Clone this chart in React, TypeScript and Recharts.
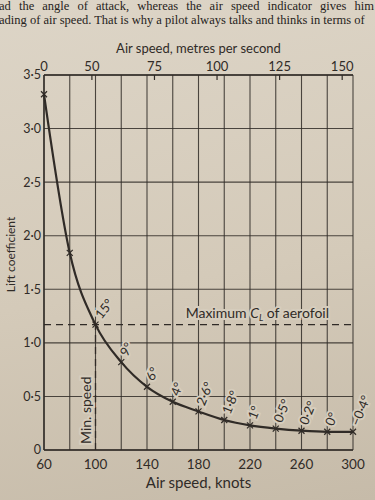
import React from "react";
import {
  LineChart,
  Line,
  XAxis,
  YAxis,
  CartesianGrid,
  ReferenceLine,
  LabelList,
  Label,
} from "recharts";

// air speed in knots, lift coefficient and angle of attack at each point
const KNOTS = [60, 80, 100, 120, 140, 160, 180, 200, 220, 240, 260, 280, 300];
const LIFT = [3.32, 1.84, 1.17, 0.82, 0.59, 0.45, 0.36, 0.28, 0.23, 0.2, 0.18, 0.17, 0.17];
const ANGLES = ["", "", "15°", "9°", "6°", "4°", "2·6°", "1·8°", "1°", "0·5°", "0·2°", "0°", "−0·4°"];

const KNOT_TICKS = [60, 80, 100, 120, 140, 160, 180, 200, 220, 240, 260, 280, 300];
const KNOT_LABELS = [60, 100, 140, 180, 220, 260, 300];
const LIFT_TICKS = [0, 0.5, 1, 1.5, 2, 2.5, 3, 3.5];
// top scale in metres per second, placed at the matching speed in knots (left edge marked "0")
const MS_AT_KNOTS = [60, 97.2, 145.8, 194.4, 243, 291.6];
const MS_LABELS = ["0", "50", "75", "100", "125", "150"];

const MAX_CL = 1.17;
const MIN_SPEED = 100;

const PAPER = "#d6cdbd";
const INK = "#302b27";
const FONT = "Lato, 'Open Sans', sans-serif";

const data = KNOTS.map((k, i) => ({ knots: k, lift: LIFT[i], angle: ANGLES[i] }));

const fmtLift = (v: number) => (v === 0 ? "0" : v.toFixed(1).replace(".", "·"));
const fmtMs = (v: number) => {
  const i = MS_AT_KNOTS.indexOf(v);
  return i >= 0 ? MS_LABELS[i] : "";
};

const Cross = (props: any) => {
  const { cx, cy } = props;
  if (cx == null || cy == null) return null;
  const s = 3;
  return (
    <g stroke={INK} strokeWidth={1.2}>
      <line x1={cx - s} y1={cy - s} x2={cx + s} y2={cy + s} />
      <line x1={cx - s} y1={cy + s} x2={cx + s} y2={cy - s} />
    </g>
  );
};

const AngleLabel = (props: any) => {
  const { x, y, value, index } = props;
  if (!value) return null;
  const rot = index <= 2 ? -52 : index <= 4 ? -60 : -68;
  return (
    <text
      transform={`translate(${x + 6},${y - 5}) rotate(${rot})`}
      fontSize={13}
      fill={INK}
      fontFamily={FONT}
      stroke={PAPER}
      strokeWidth={4}
      paintOrder="stroke"
    >
      {value}
    </text>
  );
};

const TopTick = (props: any) => {
  const { x, y, payload } = props;
  const label = fmtMs(payload.value);
  return (
    <g>
      {label !== "0" && (
        <line x1={x} y1={y + 4} x2={x} y2={y + 9} stroke={INK} strokeWidth={1.2} />
      )}
      <text x={x} y={y} textAnchor="middle" fontSize={13} fill={INK} fontFamily={FONT}>
        {label}
      </text>
    </g>
  );
};

export default function App() {
  return (
    <div
      style={{
        position: "fixed",
        left: 0,
        top: 0,
        width: 375,
        height: 500,
        overflow: "hidden",
        background: "linear-gradient(170deg, #ddd5c7 0%, #d4cab9 55%, #c6bba9 100%)",
      }}
    >
      <div
        style={{
          position: "absolute",
          left: -1,
          top: 0,
          width: 380,
          fontFamily: "'Liberation Serif', serif",
          fontSize: 12.5,
          lineHeight: "13.5px",
          color: "#262220",
          whiteSpace: "nowrap",
        }}
      >
        <div style={{ wordSpacing: 5 }}>
          ad the angle of attack, whereas the air speed indicator gives him
        </div>
        <div>ading of air speed. That is why a pilot always talks and thinks in terms of</div>
      </div>
      <LineChart
        width={375}
        height={500}
        data={data}
        margin={{ top: 44, right: 22, bottom: 0, left: 4 }}
        style={{ position: "absolute", left: 0, top: 0 }}
      >
        <CartesianGrid
          xAxisId="kn"
          stroke={INK}
          strokeOpacity={0.85}
          strokeWidth={1.1}
          horizontalValues={LIFT_TICKS}
          verticalValues={KNOT_TICKS}
        />
        <XAxis
          xAxisId="kn"
          dataKey="knots"
          type="number"
          domain={[60, 300]}
          ticks={KNOT_TICKS}
          tickFormatter={(v: number) => (KNOT_LABELS.includes(v) ? String(v) : "")}
          tickLine={false}
          tickSize={0}
          tickMargin={9}
          axisLine={{ stroke: INK, strokeWidth: 1.4 }}
          tick={{ fill: INK, fontSize: 13.5, fontFamily: FONT }}
          height={50}
          interval={0}
        >
          <Label
            value="Air speed, knots"
            position="insideBottom"
            offset={12}
            fill={INK}
            fontSize={15}
            fontFamily={FONT}
          />
        </XAxis>
        <XAxis
          xAxisId="ms"
          dataKey="knots"
          orientation="top"
          type="number"
          domain={[60, 300]}
          ticks={MS_AT_KNOTS}
          tick={<TopTick />}
          tickLine={false}
          tickSize={0}
          tickMargin={4}
          axisLine={{ stroke: INK, strokeWidth: 1.4 }}
          height={31}
          interval={0}
        >
          <Label
            value="Air speed, metres per second"
            position="insideTop"
            offset={0}
            fill={INK}
            fontSize={13}
            fontFamily={FONT}
          />
        </XAxis>
        <YAxis
          type="number"
          domain={[0, 3.5]}
          ticks={LIFT_TICKS}
          tickFormatter={fmtLift}
          tickLine={false}
          tickSize={0}
          tickMargin={3}
          axisLine={{ stroke: INK, strokeWidth: 1.4 }}
          tick={{ fill: INK, fontSize: 12.5, fontFamily: FONT }}
          width={40}
          interval={0}
        >
          <Label
            value="Lift coefficient"
            angle={-90}
            position="insideLeft"
            offset={7}
            dy={-8}
            fill={INK}
            fontSize={12}
            fontFamily={FONT}
            style={{ textAnchor: "middle" }}
          />
        </YAxis>
        <ReferenceLine
          xAxisId="kn"
          y={MAX_CL}
          stroke={INK}
          strokeWidth={1.3}
          strokeDasharray="7 5"
          label={(p: any) => {
            const vb = p.viewBox;
            return (
              <text
                x={vb.x + vb.width - 24}
                y={vb.y - 7}
                textAnchor="end"
                fontSize={14}
                fill={INK}
                fontFamily={FONT}
                stroke={PAPER}
                strokeWidth={4}
                paintOrder="stroke"
              >
                Maximum <tspan fontStyle="italic">C</tspan>
                <tspan fontStyle="italic" fontSize={9} dy={3}>L</tspan>
                <tspan dy={-3}> of aerofoil</tspan>
              </text>
            );
          }}
        />
        <ReferenceLine
          xAxisId="kn"
          segment={[
            { x: MIN_SPEED, y: 0 },
            { x: MIN_SPEED, y: MAX_CL },
          ]}
          stroke={INK}
          strokeWidth={1.3}
          strokeDasharray="7 5"
          label={(p: any) => {
            const vb = p.viewBox;
            const bx = vb.x - 5;
            const by = vb.y + vb.height - 6;
            return (
              <text
                transform={`translate(${bx},${by}) rotate(-90)`}
                fontSize={14}
                fill={INK}
                fontFamily={FONT}
                stroke={PAPER}
                strokeWidth={4}
                paintOrder="stroke"
              >
                Min. speed
              </text>
            );
          }}
        />
        <Line
          xAxisId="kn"
          dataKey="lift"
          type="monotone"
          stroke={INK}
          strokeWidth={2.2}
          dot={<Cross />}
          activeDot={false}
          isAnimationActive={false}
        >
          <LabelList dataKey="angle" content={<AngleLabel />} />
        </Line>
      </LineChart>
    </div>
  );
}
